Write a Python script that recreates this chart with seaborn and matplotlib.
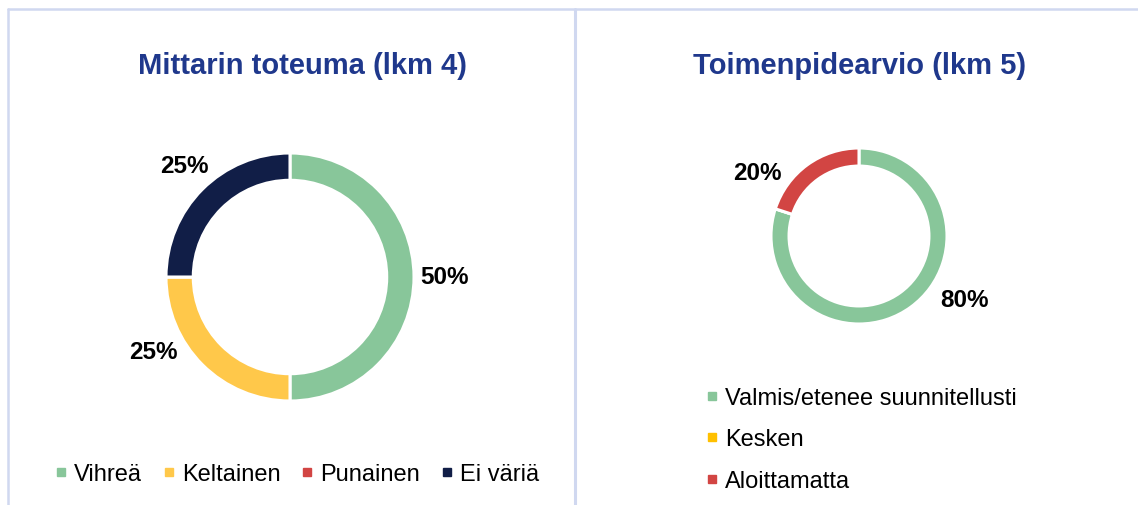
import matplotlib
matplotlib.use("Agg")
import matplotlib.pyplot as plt
import seaborn as sns
from matplotlib.lines import Line2D

sns.set_theme(style="white")
plt.rcParams['font.family'] = ['Liberation Sans', 'DejaVu Sans']

# ---- data ----
left_title = "Mittarin toteuma (lkm 4)"
left_categories = ["Vihreä", "Keltainen", "Punainen", "Ei väriä"]
left_counts = [2, 1, 0, 1]
left_colors = ["#88C69A", "#FFC84A", "#D24543", "#111E47"]

right_title = "Toimenpidearvio (lkm 5)"
right_categories = ["Valmis/etenee suunnitellusti", "Kesken", "Aloittamatta"]
right_counts = [4, 0, 1]
right_colors = ["#88C69A", "#FFC000", "#D24543"]

# label anchor positions (in units of pie radius), layout only
left_label_pos = [(1.25, 0.0), (-1.10, -0.60), None, (-0.85, 0.90)]
right_label_pos = [(1.20, -0.72), None, (-1.16, 0.72)]

W, H = 1138, 506
fig = plt.figure(figsize=(W / 100, H / 100), dpi=100)
fig.patch.set_facecolor("white")

L = 1.7


def add_donut(cx, cy, r, counts, colors, width, label_pos):
    s = 2 * L * r
    ax = fig.add_axes([(cx - s / 2) / W, (H - cy - s / 2) / H, s / W, s / H])
    ax.pie(counts, colors=colors, startangle=90, counterclock=False,
           radius=1.0,
           wedgeprops=dict(width=width, edgecolor="white", linewidth=2.2))
    total = sum(counts)
    for c, p in zip(counts, label_pos):
        if c == 0 or p is None:
            continue
        ax.text(p[0], p[1], f"{round(100 * c / total)}%", ha="center",
                va="center", fontsize=17.5, fontweight="bold", color="black")
    ax.set_xlim(-L, L)
    ax.set_ylim(-L, L)
    ax.set_aspect("equal")
    ax.axis("off")
    return ax


add_donut(290, 278, 124, left_counts, left_colors, 0.22, left_label_pos)
add_donut(859, 237, 88, right_counts, right_colors, 0.205, right_label_pos)

title_color = "#1F388C"
fig.text(303 / W, 1 - 66 / H, left_title, ha="center", va="center",
         fontsize=21, fontweight="bold", color=title_color)
fig.text(860 / W, 1 - 66 / H, right_title, ha="center", va="center",
         fontsize=21, fontweight="bold", color=title_color)


def handles(colors):
    return [Line2D([], [], marker="s", linestyle="none", markersize=6,
                   markerfacecolor=c, markeredgecolor=c) for c in colors]


fig.legend(handles(left_colors), left_categories, loc="center",
           bbox_to_anchor=(297 / W, 1 - 475 / H), ncol=4, frameon=False,
           fontsize=17, handlelength=0.5, handletextpad=0.3,
           columnspacing=0.9, borderpad=0, labelcolor="black")
fig.legend(handles(right_colors), right_categories, loc="upper left",
           bbox_to_anchor=(694 / W, 1 - 376 / H), ncol=1, frameon=False,
           fontsize=17, handlelength=0.5, handletextpad=0.3,
           labelspacing=0.83, borderpad=0, labelcolor="black")

# panel border lines
border = "#D0D8F0"
fig.add_artist(Line2D([8 / W, 1], [1 - 10 / H, 1 - 10 / H], color=border,
                      linewidth=1.8, transform=fig.transFigure))
fig.add_artist(Line2D([8 / W, 8 / W], [1 - 10 / H, 0], color=border,
                      linewidth=1.8, transform=fig.transFigure))
fig.add_artist(Line2D([575 / W, 575 / W], [1 - 10 / H, 0], color=border,
                      linewidth=2.2, transform=fig.transFigure))

fig.savefig("out.png", dpi=100, facecolor="white")
